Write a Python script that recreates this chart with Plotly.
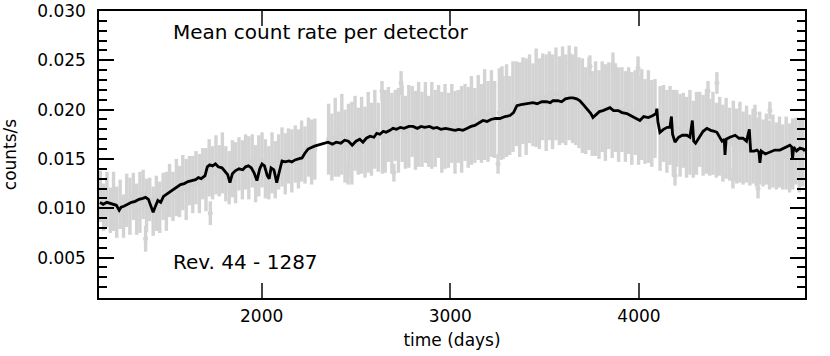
import plotly.graph_objects as go

# ---- black running-mean curve (days, counts/s) ----
mean_days = [1143,1160,1180,1200,1215,1230,1245,1255,1270,1290,1310,1330,1350,1370,1385,1400,1415,1425,1435,1450,
             1465,1480,1495,1510,1530,1550,1570,1590,1610,1630,1650,1665,1680,1700,1712,1725,1740,1755,1770,1790,
             1805,1820,1832,1845,1860,1880,1900,1915,1930,1945,1960,1975,1990,2002,2015,2030,2040,2050,2065,2080,
             2095,2108,2125,2145,2160,2177,2195,2214,2230,2246,2280,2320,2352,2375,2395,2420,2440,2460,2480,2500,
             2520,2537,2555,2575,2595,2610,2627,2645,2660,2680,2696,2715,2735,2755,2780,2802,2825,2845,2865,2890,
             2910,2929,2950,2975,3000,3025,3045,3067,3090,3110,3130,3150,3173,3195,3215,3240,3263,3290,3316,3335,
             3353,3375,3400,3420,3438,3460,3485,3510,3530,3544,3570,3590,3610,3634,3650,3670,3687,3705,3725,3745,
             3756,3775,3790,3809,3830,3846,3865,3890,3910,3936,3955,3975,3990,4005,4025,4050,4074,4090,4095,4100,
             4111,4130,4150,4164,4172,4178,4191,4210,4230,4254,4270,4283,4290,4300,4320,4340,4360,4380,4400,4413,
             4440,4452,4456,4462,4482,4510,4530,4551,4570,4585,4592,4610,4625,4636,4641,4648,4670,4694,4720,4747,
             4775,4800,4810,4814,4820,4835,4853,4870,4880]
mean_rate = [0.0106,0.0104,0.0106,0.0105,0.0104,0.0103,0.0098,0.0101,0.0102,0.0104,0.0106,0.0107,0.0109,0.0110,0.0111,0.0109,0.0100,0.0096,0.0101,0.0108,
             0.0106,0.0112,0.0114,0.0116,0.0119,0.0122,0.0124,0.0125,0.0127,0.0128,0.0129,0.0131,0.0130,0.0133,0.0142,0.0144,0.0143,0.0145,0.0142,0.0141,
             0.0138,0.0134,0.0126,0.0135,0.0138,0.0140,0.0139,0.0142,0.0143,0.0141,0.0136,0.0128,0.0140,0.0145,0.0143,0.0133,0.0130,0.0141,0.0139,0.0126,
             0.0138,0.0148,0.0147,0.0148,0.0147,0.0149,0.0150,0.0151,0.0156,0.0160,0.0163,0.0165,0.0167,0.0165,0.0167,0.0166,0.0169,0.0168,0.0164,0.0168,
             0.0170,0.0167,0.0171,0.0173,0.0172,0.0176,0.0175,0.0178,0.0177,0.0179,0.0181,0.0180,0.0182,0.0181,0.0183,0.0183,0.0181,0.0183,0.0182,0.0183,
             0.0181,0.0182,0.0180,0.0181,0.0180,0.0179,0.0180,0.0179,0.0181,0.0183,0.0184,0.0186,0.0189,0.0188,0.0190,0.0191,0.0191,0.0193,0.0194,0.0197,
             0.0204,0.0205,0.0206,0.0207,0.0207,0.0206,0.0208,0.0208,0.0207,0.0209,0.0209,0.0208,0.0211,0.0212,0.0212,0.0211,0.0209,0.0205,0.0201,0.0196,
             0.0192,0.0195,0.0198,0.0199,0.0201,0.0202,0.0199,0.0199,0.0197,0.0196,0.0194,0.0192,0.0191,0.0189,0.0193,0.0192,0.0194,0.0196,0.0201,0.0188,
             0.0177,0.0180,0.0182,0.0182,0.0193,0.0175,0.0167,0.0172,0.0174,0.0174,0.0172,0.0189,0.0168,0.0166,0.0172,0.0178,0.0181,0.0179,0.0178,0.0177,
             0.0168,0.0170,0.0154,0.0170,0.0172,0.0174,0.0171,0.0171,0.0168,0.0180,0.0158,0.0158,0.0159,0.0157,0.0146,0.0158,0.0155,0.0157,0.0159,0.0159,
             0.0162,0.0164,0.0162,0.0150,0.0162,0.0158,0.0161,0.0160,0.0158]

# ---- individual measurements (gray points with error bars) ----
obs_days = [1145,1163,1180,1198,1215,1232,1250,1268,1285,1302,1320,1338,1355,1372,1385,1390,1407,1425,1442,1460,
            1478,1495,1512,1530,1548,1565,1582,1600,1618,1635,1652,1670,1688,1705,1722,1728,1740,1758,1775,1792,
            1810,1828,1845,1862,1880,1898,1915,1932,1950,1968,1985,2002,2020,2038,2055,2072,2090,2108,2125,2142,
            2160,2178,2195,2212,2230,2248,2265,2282,
            2355,2372,2390,2408,2425,2442,2458,2460,2478,2495,2512,2530,2548,2565,2582,2600,2618,2638,2640,2655,2672,
            2690,2701,2708,2725,2739,2745,2762,2780,2798,2815,2832,2850,2868,2885,2902,2920,2938,2955,2972,2990,
            3008,3025,3042,3060,3078,3095,3112,3130,3148,3165,3182,3200,3218,3235,3253,3260,3270,3274,3280,3298,3315,
            3332,3350,3368,3385,3402,3420,3438,3455,3472,3490,3508,3525,3542,3560,3578,3595,3612,3630,3634,3648,
            3665,3682,3700,3718,3735,3740,3752,3770,3788,3805,3822,3840,3858,3862,3875,3892,3910,3928,3945,3962,
            3980,3995,3998,4015,4032,4050,4068,4085,4112,4130,4148,4165,4182,4191,4200,4218,4235,4252,4270,4288,
            4305,4322,4340,4358,4366,4375,4392,4410,4413,4428,4445,4462,4480,4498,4500,4518,4535,4552,4570,4588,
            4605,4615,4622,4631,4640,4658,4675,4692,4694,4710,4728,4745,4762,4780,4798,4815,4832,4850,4868]
obs_rate = [0.0112,0.0101,0.0109,0.0098,0.0107,0.0096,0.0104,0.0092,0.0108,0.0102,0.0112,0.0099,0.0106,0.0114,0.0069,0.0103,0.0109,0.0097,0.0105,0.0101,
            0.0112,0.0107,0.0118,0.0112,0.0121,0.0117,0.0126,0.0119,0.0128,0.0124,0.0131,0.0125,0.0135,0.0129,0.0141,0.0095,0.0136,0.0144,0.0138,0.0146,
            0.0135,0.0131,0.0140,0.0136,0.0145,0.0139,0.0147,0.0141,0.0148,0.0135,0.0143,0.0149,0.0140,0.0136,0.0146,0.0139,0.0147,0.0152,0.0145,0.0153,
            0.0148,0.0155,0.0150,0.0158,0.0154,0.0162,0.0157,0.0160,
            0.0170,0.0162,0.0172,0.0165,0.0175,0.0163,0.0134,0.0171,0.0166,0.0176,0.0168,0.0174,0.0167,0.0177,0.0170,0.0180,0.0172,0.0219,0.0176,0.0178,0.0185,
            0.0176,0.0136,0.0184,0.0179,0.0227,0.0186,0.0177,0.0183,0.0188,0.0179,0.0185,0.0180,0.0187,0.0178,0.0184,0.0181,0.0188,0.0177,0.0183,0.0179,
            0.0186,0.0177,0.0183,0.0180,0.0187,0.0182,0.0189,0.0184,0.0192,0.0186,0.0195,0.0188,0.0196,0.0190,0.0145,0.0197,0.0195,0.0232,0.0192,0.0199,0.0194,
            0.0203,0.0206,0.0200,0.0209,0.0203,0.0211,0.0205,0.0212,0.0206,0.0213,0.0207,0.0214,0.0208,0.0216,0.0209,0.0215,0.0210,0.0217,0.0247,0.0211,
            0.0214,0.0207,0.0204,0.0199,0.0206,0.0244,0.0196,0.0201,0.0195,0.0203,0.0197,0.0204,0.0198,0.0246,0.0202,0.0195,0.0200,0.0193,0.0199,0.0191,
            0.0197,0.0242,0.0189,0.0195,0.0188,0.0193,0.0186,0.0191,0.0181,0.0186,0.0178,0.0184,0.0176,0.0133,0.0181,0.0174,0.0179,0.0172,0.0177,0.0170,
            0.0176,0.0180,0.0174,0.0178,0.0219,0.0172,0.0176,0.0169,0.0227,0.0173,0.0166,0.0171,0.0165,0.0130,0.0169,0.0163,0.0167,0.0161,0.0165,0.0159,
            0.0163,0.0196,0.0157,0.0120,0.0161,0.0156,0.0160,0.0154,0.0199,0.0158,0.0153,0.0157,0.0152,0.0156,0.0151,0.0155,0.0158,0.0153,0.0157]
obs_err = [0.0026,0.0024,0.0028,0.0023,0.0030,0.0026,0.0025,0.0022,0.0027,0.0029,0.0024,0.0026,0.0031,0.0025,0.0013,0.0027,0.0022,0.0025,0.0028,0.0026,
           0.0024,0.0030,0.0027,0.0025,0.0029,0.0026,0.0028,0.0031,0.0025,0.0029,0.0027,0.0030,0.0026,0.0032,0.0029,0.0012,0.0027,0.0030,0.0026,0.0031,
           0.0028,0.0027,0.0029,0.0031,0.0027,0.0030,0.0028,0.0032,0.0027,0.0029,0.0031,0.0028,0.0030,0.0027,0.0031,0.0029,0.0028,0.0030,0.0031,0.0028,
           0.0032,0.0029,0.0030,0.0031,0.0029,0.0030,0.0033,0.0031,
           0.0036,0.0034,0.0040,0.0033,0.0041,0.0037,0.0010,0.0035,0.0042,0.0038,0.0034,0.0039,0.0036,0.0041,0.0037,0.0040,0.0035,0.0010,0.0041,0.0042,0.0038,
           0.0041,0.0009,0.0036,0.0043,0.0012,0.0039,0.0037,0.0042,0.0036,0.0040,0.0043,0.0038,0.0041,0.0036,0.0044,0.0039,0.0037,0.0041,0.0043,0.0038,
           0.0040,0.0042,0.0037,0.0044,0.0039,0.0041,0.0045,0.0038,0.0043,0.0040,0.0046,0.0041,0.0044,0.0039,0.0010,0.0045,0.0046,0.0012,0.0042,0.0047,0.0040,
           0.0046,0.0043,0.0048,0.0044,0.0049,0.0045,0.0042,0.0050,0.0046,0.0044,0.0049,0.0045,0.0048,0.0047,0.0045,0.0049,0.0046,0.0048,0.0010,0.0045,
           0.0050,0.0046,0.0048,0.0044,0.0047,0.0011,0.0043,0.0048,0.0045,0.0046,0.0049,0.0044,0.0047,0.0012,0.0045,0.0048,0.0043,0.0046,0.0044,0.0047,
           0.0043,0.0012,0.0045,0.0046,0.0043,0.0047,0.0044,0.0040,0.0043,0.0039,0.0042,0.0040,0.0044,0.0010,0.0039,0.0042,0.0038,0.0041,0.0043,0.0039,
           0.0042,0.0038,0.0041,0.0043,0.0010,0.0039,0.0042,0.0038,0.0011,0.0040,0.0039,0.0041,0.0037,0.0010,0.0040,0.0038,0.0041,0.0037,0.0039,0.0036,
           0.0038,0.0009,0.0035,0.0010,0.0037,0.0034,0.0036,0.0035,0.0009,0.0037,0.0034,0.0036,0.0033,0.0037,0.0035,0.0036,0.0034,0.0037,0.0035]

x_ticks = [2000, 3000, 4000]
y_ticks = [0.005, 0.010, 0.015, 0.020, 0.025, 0.030]
y_ticklabels = ["0.005", "0.010", "0.015", "0.020", "0.025", "0.030"]

GRAY = "#d3d3d3"
FONT = "DejaVu Sans"

fig = go.Figure()
fig.add_trace(go.Scatter(
    x=obs_days, y=obs_rate, mode="markers",
    marker=dict(color=GRAY, size=5),
    error_y=dict(type="data", array=obs_err, visible=True, color=GRAY, thickness=3.4, width=0),
    hoverinfo="skip", showlegend=False))
fig.add_trace(go.Scatter(
    x=mean_days, y=mean_rate, mode="lines",
    line=dict(color="black", width=2.8),
    hoverinfo="skip", showlegend=False))

fig.update_layout(
    width=830, height=356,
    margin=dict(l=99, r=25, t=11, b=58, autoexpand=False),
    paper_bgcolor="white", plot_bgcolor="white",
    font=dict(family=FONT, size=17, color="black"),
    showlegend=False,
    hovermode=False,
    annotations=[
        dict(text="Mean count rate per detector", xref="paper", yref="paper",
             x=0.102, y=0.927, xanchor="left", yanchor="middle", showarrow=False,
             font=dict(family=FONT, size=20, color="black")),
        dict(text="Rev. 44 - 1287", xref="paper", yref="paper",
             x=0.102, y=0.125, xanchor="left", yanchor="middle", showarrow=False,
             font=dict(family=FONT, size=20, color="black")),
    ],
)
fig.update_xaxes(
    range=[1138, 4880], tickvals=x_ticks, ticks="inside", ticklen=15, tickwidth=1.5,
    tickcolor="#444", showline=True, linecolor="black", linewidth=1.5, mirror="ticks",
    showgrid=False, zeroline=False, automargin=False, ticklabelstandoff=2,
    title=dict(text="time (days)", standoff=9, font=dict(size=17)),
    tickfont=dict(size=17))
fig.update_yaxes(
    range=[0.0009, 0.030], tickvals=y_ticks, ticktext=y_ticklabels, ticks="inside",
    ticklen=15, tickwidth=1.5, tickcolor="black",
    showline=True, linecolor="black", linewidth=1.5, mirror="ticks",
    showgrid=False, zeroline=False, automargin=False, ticklabelstandoff=8,
    ticklabeloverflow="allow",
    minor=dict(dtick=0.001, tick0=0, ticks="inside", ticklen=8, tickwidth=1.5, tickcolor="black", showgrid=False),
    title=dict(text="counts/s", standoff=17, font=dict(size=17)),
    tickfont=dict(size=17))

# remove the browser's default 8px body margin so the figure sits at the page origin
fig.write_html("out.html", config={"displayModeBar": False},
               post_script="document.body.style.margin='0px';")
